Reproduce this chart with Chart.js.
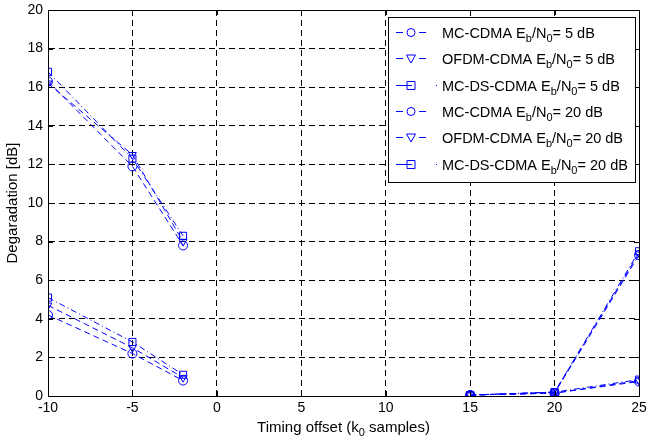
<!DOCTYPE html>
<html>
<head>
<meta charset="utf-8">
<script src="https://cdn.jsdelivr.net/npm/chart.js@4.4.1/dist/chart.umd.min.js"></script>
<style>
  html, body { margin: 0; padding: 0; background: #fff; }
  #wrap { width: 647px; height: 439px; }
</style>
</head>
<body>
<div id="wrap"><canvas id="deg"></canvas></div>
<script>
// timing offsets (k0 samples), null splits the two groups
let offsets = [-10, -5, -2, null, 15, 20, 25];

let mcCdma5 = [4.2, 2.2, 0.8, null, 0.05, 0.15, 0.75];
let ofdmCdma5 = [4.7, 2.5, 0.95, null, 0.05, 0.15, 0.8];
let mcDsCdma5 = [5.1, 2.8, 1.1, null, 0.05, 0.2, 0.85];
let mcCdma20 = [16.3, 11.9, 7.8, null, 0.05, 0.15, 7.3];
let ofdmCdma20 = [16.2, 12.5, 8.0, null, 0.05, 0.2, 7.4];
let mcDsCdma20 = [16.8, 12.3, 8.3, null, 0.05, 0.2, 7.5];

let xTicks = [-10, -5, 0, 5, 10, 15, 20, 25];
let yTicks = [0, 2, 4, 6, 8, 10, 12, 14, 16, 18, 20];

// legend text pieces: [name, ebn0]
let legendNames = ['MC-CDMA', 'OFDM-CDMA', 'MC-DS-CDMA', 'MC-CDMA', 'OFDM-CDMA', 'MC-DS-CDMA'];
let legendSnr = ['5', '5', '5', '20', '20', '20'];

const BLUE = '#0000ff';
const FONT = '"Liberation Sans", Arial, sans-serif';

function pts(vals) {
    return offsets.map((x, i) => ({ x: x === null ? -2.5 : x, y: vals[i] }));
}

function series(label, vals, style, dash) {
    return {
        label: label,
        data: pts(vals),
        borderColor: BLUE,
        backgroundColor: BLUE,
        borderWidth: 1,
        borderDash: dash,
        pointStyle: style,
        pointRotation: style === 'triangle' ? 180 : 0,
        pointRadius: style === 'rect' ? 5 : 4.5,
        pointBackgroundColor: 'rgba(0,0,0,0)',
        pointBorderColor: BLUE,
        pointBorderWidth: 1,
        fill: false,
        tension: 0,
        spanGaps: false
    };
}

const DASH = [6, 4];
const DASHDOT = [6, 3, 1, 3];

let dsets = [
    series('MC-CDMA 5', mcCdma5, 'circle', DASH),
    series('OFDM-CDMA 5', ofdmCdma5, 'triangle', DASH),
    series('MC-DS-CDMA 5', mcDsCdma5, 'rect', DASHDOT),
    series('MC-CDMA 20', mcCdma20, 'circle', DASH),
    series('OFDM-CDMA 20', ofdmCdma20, 'triangle', DASH),
    series('MC-DS-CDMA 20', mcDsCdma20, 'rect', DASHDOT)
];

// frame, inward ticks and the matlab style legend
const frame = {
    id: 'frame',
    afterDraw(chart) {
        const c = chart.ctx, a = chart.chartArea;
        const xs = chart.scales.x, ys = chart.scales.y;
        c.save();
        c.strokeStyle = '#000';
        c.lineWidth = 1;
        c.setLineDash([]);
        c.strokeRect(Math.round(a.left) + 0.5, Math.round(a.top) + 0.5,
            Math.round(a.right - a.left), Math.round(a.bottom - a.top));
        c.beginPath();
        xTicks.forEach(v => {
            const px = Math.round(xs.getPixelForValue(v)) + 0.5;
            c.moveTo(px, a.bottom); c.lineTo(px, a.bottom - 5);
            c.moveTo(px, a.top); c.lineTo(px, a.top + 5);
        });
        yTicks.forEach(v => {
            const py = Math.round(ys.getPixelForValue(v)) + 0.5;
            c.moveTo(a.left, py); c.lineTo(a.left + 5, py);
            c.moveTo(a.right, py); c.lineTo(a.right - 5, py);
        });
        c.stroke();

        // legend box
        const bx = 388, by = 17, bw = 247, bh = 165;
        c.fillStyle = '#fff';
        c.fillRect(bx, by, bw, bh);
        c.strokeRect(bx + 0.5, by + 0.5, bw, bh);

        legendNames.forEach((name, i) => {
            const ds = dsets[i];
            const y = Math.round(by + 15 + i * 26.3) + 0.5;
            c.strokeStyle = BLUE;
            c.fillStyle = BLUE;
            c.beginPath();
            if (ds.borderDash === DASHDOT) {
                c.moveTo(396, y); c.lineTo(412, y);
                c.moveTo(436, y); c.lineTo(437, y);
            } else {
                c.moveTo(396, y); c.lineTo(403, y);
                c.moveTo(419, y); c.lineTo(426, y);
            }
            c.stroke();
            // marker
            c.beginPath();
            const mx = 411;
            if (ds.pointStyle === 'circle') {
                c.arc(mx, y, 4, 0, Math.PI * 2);
            } else if (ds.pointStyle === 'triangle') {
                c.moveTo(mx - 4.5, y - 3.5); c.lineTo(mx + 4.5, y - 3.5); c.lineTo(mx, y + 4.5); c.closePath();
            } else {
                c.rect(mx - 4, y - 4, 8, 8);
            }
            c.stroke();

            // text with subscripts
            c.fillStyle = '#000';
            c.textBaseline = 'alphabetic';
            c.textAlign = 'left';
            let tx = 442;
            const base = y + 5;
            const big = '14.5px ' + FONT, small = '11px ' + FONT;
            const parts = [
                [name + ' E', big, 0], ['b', small, 4], ['/N', big, 0], ['0', small, 4], ['= ' + legendSnr[i] + ' dB', big, 0]
            ];
            parts.forEach(p => {
                c.font = p[1];
                c.fillText(p[0], tx, base + p[2]);
                tx += c.measureText(p[0]).width;
            });
        });

        // x axis title with subscript
        c.fillStyle = '#000';
        c.textBaseline = 'alphabetic';
        const tparts = [['Timing offset (k', '15px ' + FONT, 0], ['0', '11px ' + FONT, 4], [' samples)', '15px ' + FONT, 0]];
        let total = 0;
        tparts.forEach(p => { c.font = p[1]; total += c.measureText(p[0]).width; });
        let tx = (a.left + a.right) / 2 - total / 2;
        tparts.forEach(p => {
            c.font = p[1];
            c.fillText(p[0], tx, 432 + p[2]);
            tx += c.measureText(p[0]).width;
        });
        c.restore();
    }
};

const ctx = document.getElementById('deg').getContext('2d');
const degChart = new Chart(ctx, {
    type: 'line',
    data: { datasets: dsets },
    options: {
        responsive: true,
        maintainAspectRatio: false,
        animation: false,
        layout: { padding: { top: 10, right: 8, left: 0, bottom: 0 } },
        scales: {
            x: {
                type: 'linear',
                min: -10,
                max: 25,
                afterFit: s => { s.height = 43; s.paddingLeft = 0; s.paddingRight = 0; },
                afterBuildTicks: s => { s.ticks = xTicks.map(v => ({ value: v })); },
                ticks: { color: '#000', font: { size: 14, family: FONT }, padding: 4 },
                grid: { color: '#000', drawTicks: false, tickLength: 0 },
                border: { display: true, color: '#000', dash: [6, 4] }
            },
            y: {
                min: 0,
                max: 20,
                afterFit: s => { s.width = 48; s.paddingTop = 0; s.paddingBottom = 0; },
                afterBuildTicks: s => { s.ticks = yTicks.map(v => ({ value: v })); },
                ticks: { color: '#000', font: { size: 14, family: FONT }, padding: 5 },
                title: { display: true, text: 'Degaradation [dB]', color: '#000', font: { size: 15, family: FONT }, padding: { top: 4, bottom: 0 } },
                grid: { color: '#000', drawTicks: false, tickLength: 0 },
                border: { display: true, color: '#000', dash: [6, 4] }
            }
        },
        plugins: {
            legend: { display: false },
            tooltip: { enabled: false }
        }
    },
    plugins: [frame]
});
</script>
</body>
</html>
